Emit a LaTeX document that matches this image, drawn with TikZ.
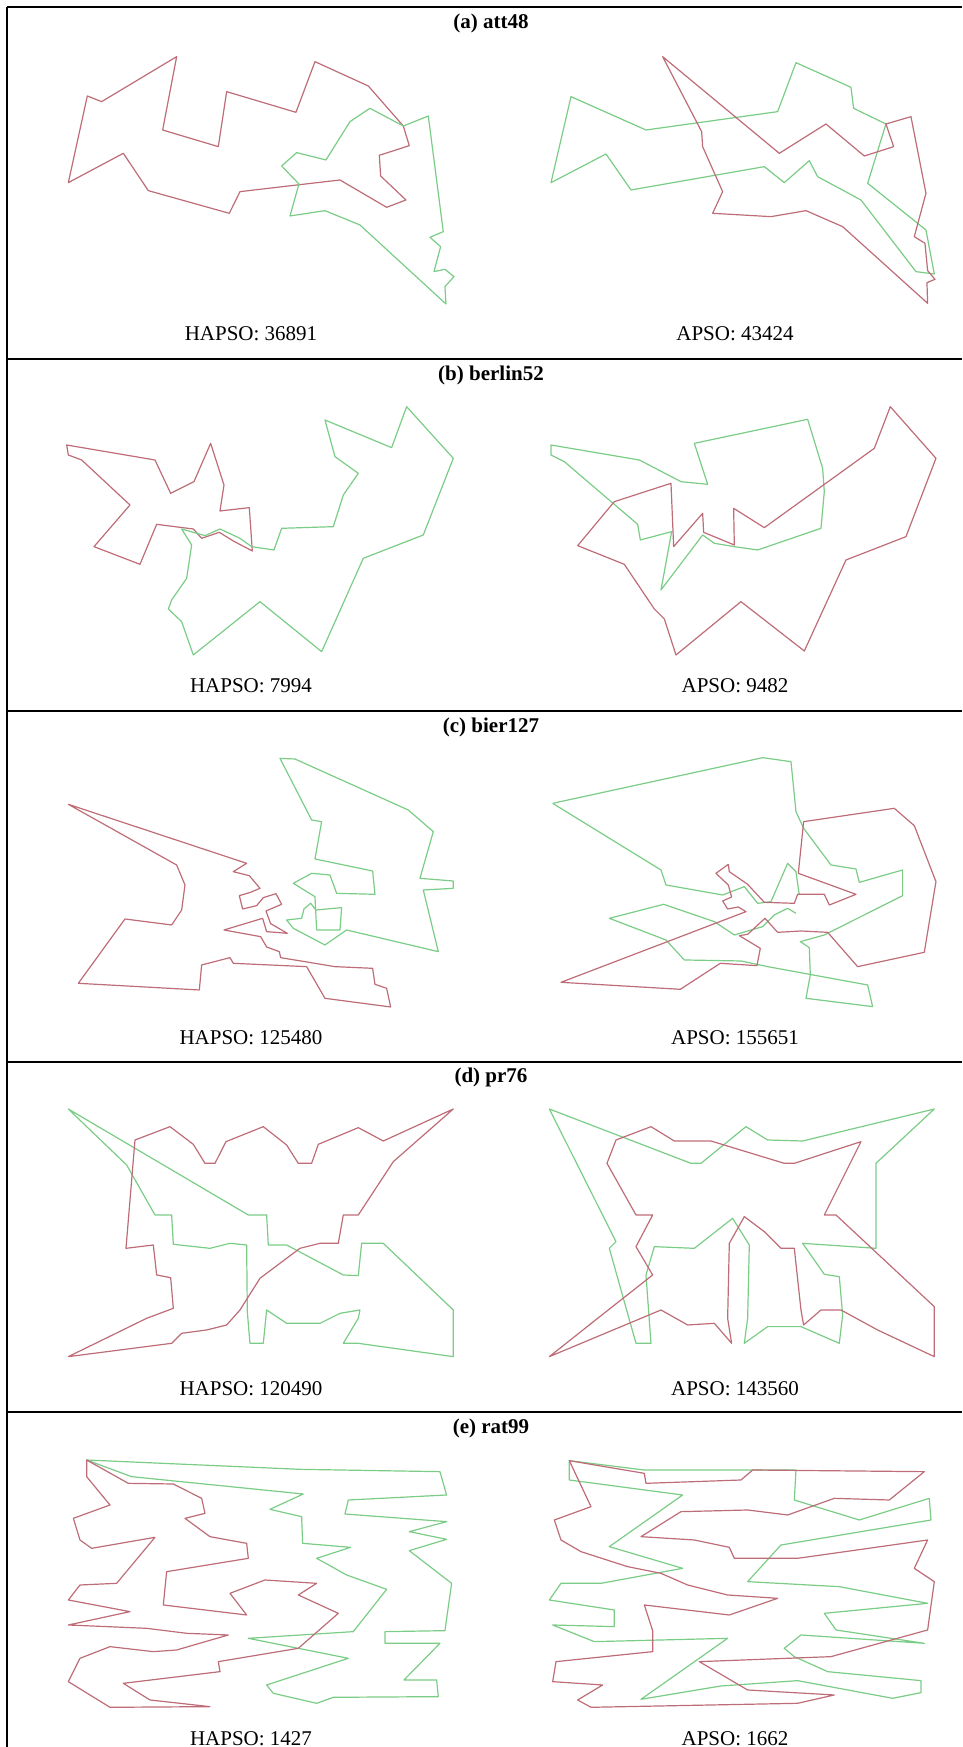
\documentclass[tikz,border=0pt]{standalone}
\usepackage{fontspec}
\setmainfont{Liberation Serif}
\definecolor{tourred}{RGB}{190,108,120}
\definecolor{tourgreen}{RGB}{122,204,134}

\begin{document}
\begin{tikzpicture}[x=1pt, y=-1pt,
    redtour/.style={draw=tourred, line width=1.2pt, line join=round},
    greentour/.style={draw=tourgreen, line width=1.2pt, line join=round},
    rule/.style={line width=1.6pt},
    title/.style={font=\fontsize{21}{24}\selectfont\bfseries, inner sep=0pt},
    score/.style={font=\fontsize{21}{24}\selectfont, inner sep=0pt},
    zoomed/.style={x=0.3333pt, y=-0.3333pt}]
    \useasboundingbox (0,0) rectangle (962,1747);

    % Table rules
    \draw[rule] (7,7) -- (962,7);
    \draw[rule] (7,7) -- (7,1747);
    \foreach \y in {359,711,1062,1412}
        \draw[rule] (7,\y) -- (962,\y);

    % Titles
    \node[title] (ta) at (491,23) {(a) att48};
    \node[title] (tb) at (491,375) {(b) berlin52};
    \node[title] (tc) at (491,727) {(c) bier127};
    \node[title] (td) at (491,1077) {(d) pr76};
    \node[title] (te) at (491,1428) {(e) rat99};

    % Scores
    \node[score] (ha) at (251,334) {HAPSO: 36891};
    \node[score] (aa) at (735,334) {APSO: 43424};
    \node[score] (hb) at (251,686) {HAPSO: 7994};
    \node[score] (ab) at (735,686) {APSO: 9482};
    \node[score] (hc) at (251,1038) {HAPSO: 125480};
    \node[score] (ac) at (735,1038) {APSO: 155651};
    \node[score] (hd) at (251,1389) {HAPSO: 120490};
    \node[score] (ad) at (735,1389) {APSO: 143560};
    \node[score] (he) at (251,1739) {HAPSO: 1427};
    \node[score] (ae) at (735,1739) {APSO: 1662};

    % (a) att48
    \begin{scope}[xshift=0pt, yshift=0pt, zoomed]
        \draw[redtour] plot coordinates {(1210,378) (1105,258) (945,185) (888,337) (680,275) (655,440) (488,390) (530,170) (305,305) (262,288) (205,548) (370,460) (445,572) (688,640) (720,575) (1020,540) (1160,622) (1218,600) (1142,528) (1138,466) (1228,437)} -- cycle;
        \draw[greentour] plot coordinates {(1210,378) (1110,325) (1050,365) (978,480) (890,458) (845,498) (897,552) (870,648) (975,632) (1080,675) (1338,912) (1335,860) (1362,830) (1335,808) (1302,815) (1322,740) (1290,712) (1330,695) (1285,348)} -- cycle;
    \end{scope}
    \begin{scope}[xshift=481pt, yshift=0pt, zoomed]
        \draw[greentour] plot coordinates {(1215,372) (1118,325) (1110,262) (945,188) (890,335) (495,390) (270,290) (210,548) (375,462) (450,570) (850,500) (910,548) (985,482) (1010,530) (1140,600) (1305,815) (1360,822) (1335,690) (1160,550)} -- cycle;
        \draw[redtour] plot coordinates {(545,170) (895,460) (1035,372) (1150,468) (1238,440) (1215,372) (1290,350) (1335,580) (1300,710) (1332,730) (1340,812) (1362,838) (1338,848) (1340,910) (1085,680) (975,632) (870,650) (695,640) (725,575) (665,440) (662,395)} -- cycle;
    \end{scope}

    % (b) berlin52
    \begin{scope}[xshift=0pt, yshift=-325pt, zoomed]
        \draw[redtour] plot coordinates {(200,360) (465,405) (512,505) (582,470) (632,355) (672,480) (660,558) (748,548) (757,678) (700,648) (658,622) (605,640) (580,612) (540,607) (470,598) (420,718) (282,665) (390,540) (245,405) (205,390)} -- cycle;
        \draw[greentour] plot coordinates {(545,612) (575,660) (560,760) (515,825) (505,852) (545,890) (580,990) (780,830) (965,980) (1090,700) (1270,630) (1360,400) (1220,245) (1175,368) (975,285) (1005,395) (1075,445) (1030,510) (1000,605) (845,610) (822,675) (755,665) (720,640) (660,612) (615,632)} -- cycle;
    \end{scope}
    \begin{scope}[xshift=481pt, yshift=-325pt, zoomed]
        \draw[greentour] plot coordinates {(210,360) (475,405) (600,470) (680,478) (640,355) (980,283) (1025,430) (1030,500) (1020,610) (830,675) (760,665) (700,655) (665,630) (540,795) (572,620) (478,645) (470,598) (250,410) (210,390)} -- cycle;
        \draw[redtour] plot coordinates {(290,662) (400,530) (570,475) (578,665) (665,565) (668,622) (760,660) (758,550) (850,608) (1180,370) (1228,245) (1365,400) (1275,635) (1095,705) (970,978) (780,830) (585,990) (550,882) (520,852) (430,718)} -- cycle;
    \end{scope}

    % (c) bier127
    \begin{scope}[xshift=0pt, yshift=-655pt, zoomed]
        \draw[redtour] plot coordinates {(205,448) (740,625) (700,650) (748,662) (780,700) (752,712) (718,722) (728,762) (770,752) (790,728) (828,716) (845,748) (798,768) (812,806) (862,835) (800,830) (788,790) (672,825) (782,845) (800,876) (838,890) (842,908) (1005,935) (1118,940) (1125,988) (1160,1000) (1172,1056) (975,1030) (920,935) (700,925) (690,908) (605,930) (598,1005) (235,985) (375,792) (515,810) (545,765) (555,690) (530,630)} -- cycle;
        \draw[greentour] plot coordinates {(840,310) (885,312) (1225,465) (1300,530) (1260,670) (1360,678) (1360,700) (1270,705) (1315,890) (1040,825) (975,870) (880,820) (860,795) (905,790) (912,762) (932,745) (948,765) (1025,758) (1020,825) (950,825) (945,725) (880,685) (935,655) (990,660) (1010,715) (1125,718) (1118,648) (945,612) (965,500) (935,495)} -- cycle;
    \end{scope}
    \begin{scope}[xshift=481pt, yshift=-655pt, zoomed]
        \draw[greentour] plot coordinates {(215,445) (845,308) (930,320) (945,470) (968,520) (1050,630) (1125,642) (1135,682) (1265,645) (1265,722) (1030,840) (958,860) (985,878) (988,960) (975,1030) (1175,1055) (1160,990) (860,935) (780,918) (610,915) (555,855) (385,790) (548,748) (700,800) (760,840) (845,815) (880,780) (920,760) (945,775)};
        \draw[greentour] plot coordinates {(215,445) (540,645) (555,690) (725,720) (790,695) (830,745) (870,740) (920,625) (945,650) (955,720)};
        \draw[redtour] plot coordinates {(240,982) (795,770) (772,756) (740,762) (725,738) (752,726) (742,690) (705,655) (742,628) (745,650) (800,688) (850,742) (940,745) (950,718) (1030,718) (1045,750) (1125,718) (952,655) (968,500) (1240,460) (1300,512) (1365,680) (1330,892) (1130,935) (1040,832) (960,828) (890,832) (852,790) (800,838) (775,842) (838,880) (828,932) (718,925) (598,1003)} -- cycle;
    \end{scope}

    % (d) pr76
    \begin{scope}[xshift=0pt, yshift=-985pt, zoomed]
        \draw[greentour] plot coordinates {(205,372) (745,690) (800,690) (805,780) (860,780) (1030,870) (1075,872) (1085,775) (1150,775) (1360,975) (1360,1115) (1075,1075) (1030,1075) (1075,1000) (1080,975) (1020,985) (960,1015) (860,1015) (800,975) (790,1075) (750,1075) (742,980) (740,780) (690,775) (630,790) (520,778) (515,690) (465,690) (380,540)} -- cycle;
        \draw[redtour] plot coordinates {(1360,372) (1150,468) (1075,428) (955,478) (935,535) (895,535) (860,480) (790,425) (678,470) (645,535) (615,535) (580,478) (510,425) (405,465) (378,790) (460,780) (470,870) (512,878) (520,970) (440,1000) (205,1115) (515,1075) (545,1045) (620,1035) (680,1020) (720,975) (780,880) (900,790) (960,775) (1015,775) (1030,690) (1075,690) (1180,530)} -- cycle;
    \end{scope}
    \begin{scope}[xshift=481pt, yshift=-985pt, zoomed]
        \draw[greentour] plot coordinates {(1360,372) (965,468) (860,465) (795,425) (660,535) (630,535) (205,372) (405,770) (385,790) (465,1075) (510,1075) (495,870) (520,785) (640,790) (755,700) (805,780) (800,1000) (790,1075) (860,1025) (960,1025) (1075,1075) (1085,990) (1075,875) (1030,868) (965,775) (1185,790) (1185,535)} -- cycle;
        \draw[redtour] plot coordinates {(405,465) (510,425) (580,468) (690,468) (910,535) (940,535) (1140,470) (1030,690) (1065,690) (1360,965) (1360,1115) (1190,1035) (1080,975) (1020,975) (968,1020) (960,975) (940,790) (900,790) (850,740) (790,695) (745,775) (740,1000) (752,1075) (700,1015) (620,1020) (540,975) (205,1115) (350,1000) (515,870) (465,785) (515,690) (465,690) (378,535)} -- cycle;
    \end{scope}

    % (e) rat99
    \begin{scope}[xshift=0pt, yshift=-1310pt, zoomed]
        \draw[greentour] plot coordinates {(260,450) (900,478) (1320,485) (1340,555) (1045,570) (1035,612) (1340,635) (1228,665) (1340,688) (1228,722) (1355,820) (1335,962) (1155,965) (1155,1000) (1320,1000) (1212,1110) (1310,1110) (1315,1160) (1000,1162) (950,1180) (820,1150) (800,1125) (1045,1045) (745,985) (1060,965) (1160,838) (1040,795) (950,745) (1052,712) (908,700) (905,620) (810,598) (910,552) (395,500)} -- cycle;
        \draw[redtour] plot coordinates {(260,450) (260,500) (330,585) (220,625) (240,690) (275,715) (465,682) (350,820) (240,825) (205,870) (390,905) (205,945) (440,955) (560,970) (685,975) (530,1020) (460,1025) (330,1010) (240,1045) (205,1115) (330,1192) (630,1190) (450,1170) (370,1120) (660,1085) (655,1055) (895,1015) (1015,910) (895,855) (950,820) (795,810) (690,850) (740,915) (490,885) (500,785) (745,745) (740,700) (630,680) (555,625) (615,610) (605,565) (520,522) (385,520)} -- cycle;
    \end{scope}
    \begin{scope}[xshift=481pt, yshift=-1310pt, zoomed]
        \draw[greentour] plot coordinates {(265,452) (265,510) (605,555) (385,710) (605,775) (360,820) (240,820) (205,870) (400,900) (400,950) (215,945) (340,995) (740,985) (480,1168) (720,1128) (950,1112) (1235,1165) (1320,1148) (1320,1112) (1040,1085) (940,1040) (910,1015) (960,975) (1330,1000) (1065,960) (1030,910) (1340,880) (1075,830) (800,815) (900,705) (1350,630) (1345,565) (1135,630) (940,570) (945,480) (490,480)} -- cycle;
        \draw[redtour] plot coordinates {(265,452) (490,490) (495,520) (780,510) (815,480) (1330,485) (1225,570) (1060,565) (920,615) (800,600) (600,605) (480,680) (640,690) (745,712) (760,745) (950,745) (1340,690) (1300,775) (1360,815) (1340,960) (1050,1040) (655,1055) (800,1140) (1060,1155) (950,1180) (330,1192) (290,1170) (365,1125) (215,1115) (225,1055) (515,1025) (515,962) (490,885) (745,915) (890,865) (740,855) (620,825) (540,790) (440,770) (300,725) (240,690) (220,630) (330,590)} -- cycle;
    \end{scope}
\end{tikzpicture}
\end{document}
